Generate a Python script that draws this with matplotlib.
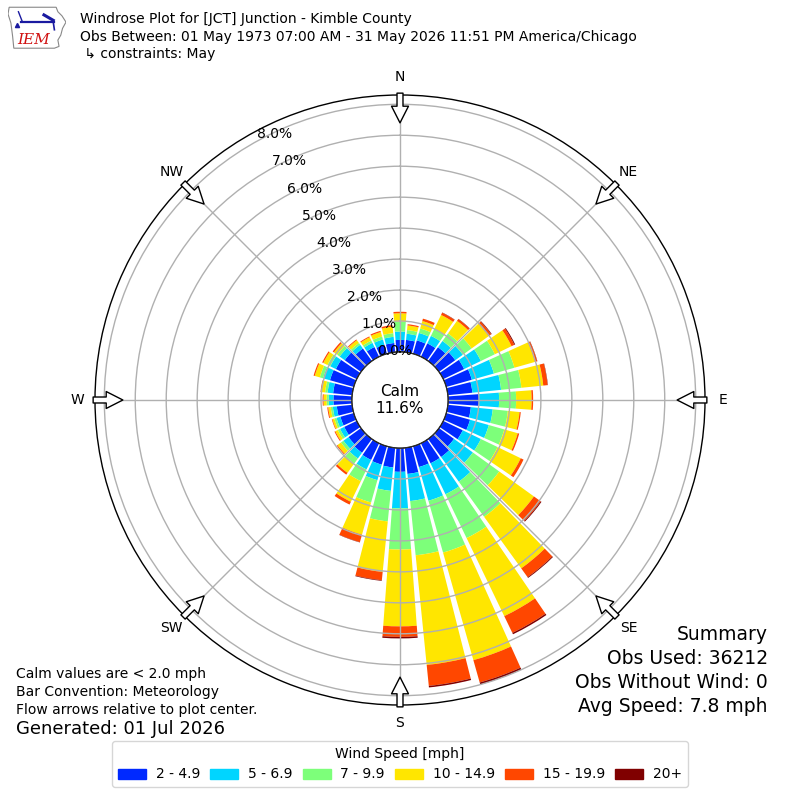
import numpy as np
import matplotlib
matplotlib.use("Agg")
import matplotlib.pyplot as plt
from matplotlib.patches import FancyArrowPatch, Rectangle, Polygon

# direction bins (deg, meteorological "from") and percent of obs per speed bin
directions = np.arange(0, 360, 10)
speed_labels = ["2 - 4.9", "5 - 6.9", "7 - 9.9", "10 - 14.9", "15 - 19.9", "20+"]

pct_2_5 = [0.39, 0.40, 0.45, 0.48, 0.55, 0.65, 0.75, 0.86, 0.80, 1.00, 0.75, 0.80,
           0.70, 0.60, 0.72, 0.72, 0.70, 0.85, 0.77, 0.64, 0.62, 0.60, 0.55, 0.50,
           0.45, 0.45, 0.50, 0.60, 0.62, 0.80, 0.75, 0.65, 0.50, 0.35, 0.30, 0.30]
pct_5_7 = [0.27, 0.20, 0.25, 0.27, 0.25, 0.30, 0.60, 0.74, 0.93, 0.65, 0.71, 0.63,
           0.65, 0.75, 0.98, 1.11, 1.13, 0.88, 1.18, 0.76, 0.52, 0.34, 0.23, 0.20,
           0.15, 0.13, 0.13, 0.15, 0.18, 0.23, 0.20, 0.20, 0.15, 0.15, 0.18, 0.20]
pct_7_10 = [0.32, 0.12, 0.15, 0.25, 0.30, 0.35, 0.50, 0.69, 0.66, 0.55, 0.49, 0.52,
            0.60, 1.05, 1.40, 1.57, 1.74, 1.76, 1.33, 0.99, 0.75, 0.42, 0.20, 0.10,
            0.08, 0.07, 0.07, 0.07, 0.08, 0.11, 0.10, 0.10, 0.07, 0.08, 0.10, 0.12]
pct_10_15 = [0.27, 0.15, 0.25, 0.50, 0.50, 0.68, 0.60, 0.69, 0.71, 0.50, 0.38, 0.45,
             0.83, 1.38, 2.05, 2.80, 3.61, 3.56, 2.48, 1.64, 1.08, 0.74, 0.37, 0.14,
             0.09, 0.07, 0.08, 0.10, 0.12, 0.17, 0.15, 0.13, 0.11, 0.12, 0.15, 0.21]
pct_15_20 = [0.05, 0.04, 0.08, 0.08, 0.07, 0.10, 0.10, 0.07, 0.14, 0.05, 0.04, 0.05,
             0.10, 0.27, 0.35, 0.60, 0.75, 0.68, 0.34, 0.27, 0.25, 0.10, 0.07, 0.03,
             0.03, 0.02, 0.03, 0.03, 0.03, 0.04, 0.04, 0.05, 0.03, 0.03, 0.04, 0.05]
pct_20p = [0.00, 0.00, 0.00, 0.01, 0.01, 0.02, 0.03, 0.01, 0.01, 0.00, 0.00, 0.00,
           0.00, 0.03, 0.03, 0.05, 0.07, 0.05, 0.05, 0.02, 0.01, 0.00, 0.00, 0.00,
           0.00, 0.00, 0.00, 0.00, 0.00, 0.00, 0.00, 0.00, 0.00, 0.00, 0.00, 0.00]

calm_pct = 11.6
rticks = [0, 1, 2, 3, 4, 5, 6, 7, 8]
compass = ["N", "NE", "E", "SE", "S", "SW", "W", "NW"]

series = [pct_2_5, pct_5_7, pct_7_10, pct_10_15, pct_15_20, pct_20p]
colors = plt.cm.jet(np.linspace(0, 1, 7)[1:])

fig = plt.figure(figsize=(8, 8), dpi=100)


def fy(py):
    return 1 - py / 800.0


ax = fig.add_axes([95 / 800, 95 / 800, 610 / 800, 610 / 800], projection="polar")
ax.set_theta_zero_location("N")
ax.set_theta_direction(-1)
ax.set_rorigin(-1.55)
ax.set_ylim(0, 8.3)
ax.set_axisbelow(False)  # grid + r labels drawn over the bars

theta = np.radians(directions)
width = np.radians(8.5)
bottom = np.zeros(len(directions))
for vals, c in zip(series, colors):
    vals = np.array(vals)
    ax.bar(theta, vals, width=width, bottom=bottom, color=c, linewidth=0, zorder=1)
    bottom += vals

ax.set_yticks(rticks)
ax.set_yticklabels([f"{v:.1f}%" for v in rticks], fontsize=10)
ax.set_rlabel_position(331)
ax.set_xticks(np.radians(np.arange(0, 360, 45)))
ax.set_xticklabels(compass, fontsize=10)
ax.tick_params(axis="x", pad=2.5)
ax.grid(True, color="#b0b0b0", linewidth=1)
ax.spines["polar"].set_linewidth(1)

# calm circle
tt = np.linspace(0, 2 * np.pi, 361)
ax.plot(tt, np.zeros_like(tt), color="k", linewidth=1, zorder=4)
ax.text(0.5, 0.5, f"Calm\n{calm_pct:.1f}%", transform=ax.transAxes,
        ha="center", va="center", fontsize=11, zorder=5)

# flow arrows on the rim
for d in range(0, 360, 45):
    arr = FancyArrowPatch((np.radians(d), 8.36), (np.radians(d), 7.40),
                          arrowstyle="simple,head_length=1.2,head_width=1.22,tail_width=0.43",
                          mutation_scale=10, fc="white", ec="black", lw=1,
                          transform=ax.transData, clip_on=False, zorder=6,
                          shrinkA=0, shrinkB=0)
    ax.add_patch(arr)

# header text
fig.text(80 / 800, fy(19), "Windrose Plot for [JCT] Junction - Kimble County",
         fontsize=10, va="center")
fig.text(80 / 800, fy(37),
         "Obs Between: 01 May 1973 07:00 AM - 31 May 2026 11:51 PM America/Chicago",
         fontsize=10, va="center")
fig.text(80 / 800, fy(54), " \u21b3 constraints: May", fontsize=10, va="center")

# footnotes
fig.text(16 / 800, fy(674), "Calm values are < 2.0 mph", fontsize=10, va="center")
fig.text(16 / 800, fy(692), "Bar Convention: Meteorology", fontsize=10, va="center")
fig.text(16 / 800, fy(710), "Flow arrows relative to plot center.", fontsize=10, va="center")
fig.text(16 / 800, fy(729), "Generated: 01 Jul 2026", fontsize=13, va="center")

summary = ["Summary", "Obs Used: 36212", "Obs Without Wind: 0", "Avg Speed: 7.8 mph"]
for i, s in enumerate(summary):
    fig.text(768 / 800, fy(635 + 23.7 * i), s, fontsize=13.5, ha="right", va="center")

# legend
handles = [Rectangle((0, 0), 1, 1, color=c) for c in colors]
fig.legend(handles, speed_labels, ncol=6, loc="upper center",
           bbox_to_anchor=(0.5, fy(741)), borderaxespad=0,
           title="Wind Speed [mph]", fontsize=10,
           title_fontsize=10, handlelength=2.0, handleheight=0.7,
           handletextpad=0.7, columnspacing=0.75, frameon=True)

# IEM logo
lax = fig.add_axes([8 / 800, fy(50), 58 / 800, 45 / 800])
lax.set_xlim(0, 1)
lax.set_ylim(0, 1)
lax.axis("off")
iowa = [(0.02, 0.95), (0.83, 0.95), (0.86, 0.85), (0.93, 0.76), (1.0, 0.62),
        (0.94, 0.48), (0.91, 0.33), (0.86, 0.22), (0.88, 0.08), (0.80, 0.04),
        (0.10, 0.04), (0.08, 0.30), (0.05, 0.60), (0.0, 0.80)]
lax.add_patch(Polygon(iowa, closed=True, fill=False, ec="#888888", lw=0.8))
lax.plot([0.22, 0.80], [0.62, 0.62], color="#1a1aa0", lw=1.6)
lax.plot([0.62, 0.78], [0.78, 0.66], color="#1a1aa0", lw=2.2)
lax.plot([0.78, 0.80], [0.62, 0.45], color="#1a1aa0", lw=1.2)
lax.plot([0.25, 0.18], [0.62, 0.85], color="#1a1aa0", lw=1.0)
lax.plot([0.16], [0.55], "^", color="#1a1aa0", ms=3)
lax.text(0.45, 0.22, "IEM", color="#d01010", fontsize=11, style="italic",
         family="DejaVu Serif", ha="center", va="center")

fig.savefig("out.png", dpi=100)
